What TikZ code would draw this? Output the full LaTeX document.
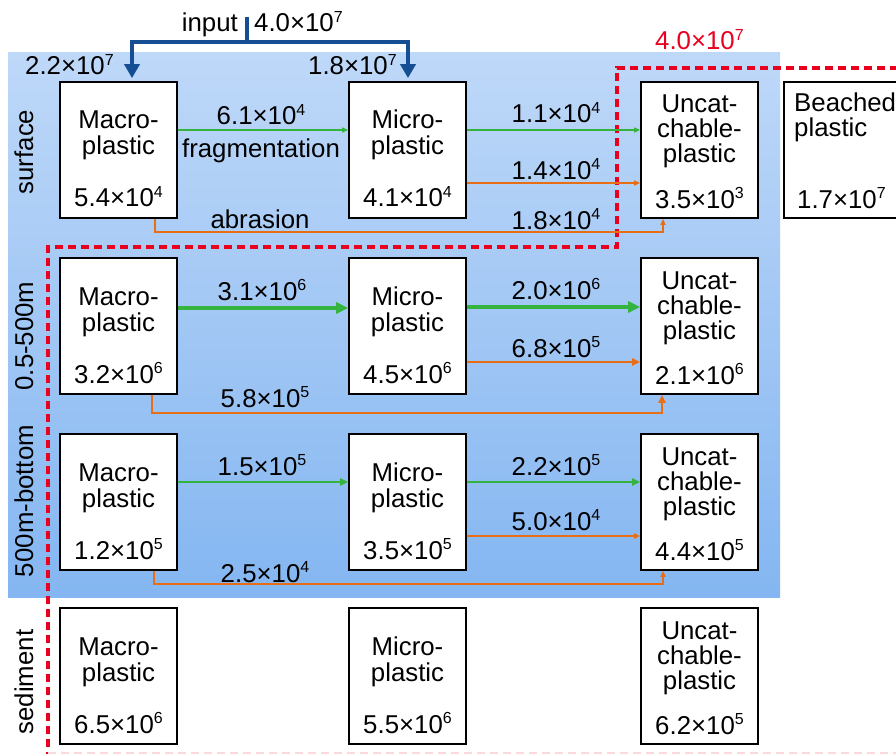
\documentclass[tikz,border=0pt]{standalone}
\usepackage{fontspec}
\setmainfont{Liberation Sans}
\usetikzlibrary{arrows.meta}

\definecolor{bgtop}{RGB}{190,216,248}
\definecolor{bgbot}{RGB}{132,182,241}
\definecolor{flowgreen}{RGB}{52,180,62}
\definecolor{floworange}{RGB}{232,110,22}
\definecolor{inblue}{RGB}{22,78,148}
\definecolor{dashred}{RGB}{232,0,30}

\newcommand\fs{\fontsize{25.8}{26}\selectfont}
\newcommand\supr[1]{\raisebox{0.36em}{\fontsize{16}{16}\selectfont #1}}
\newcommand\sci[2]{#1×10\supr{#2}}

% box with two name lines and a stock value
\newcommand\twobox[6]{%
  \node[pbox] (#1) at (#2,#3+68) {};
  \node[lbl] at (#2,#3+47) {#4};
  \node[lbl] at (#2,#3+73) {#5};
  \node[lbl] at (#2,#3+125) {#6};
}
% box with three name lines and a stock value
\newcommand\threebox[7]{%
  \node[pbox] (#1) at (#2,#3+68) {};
  \node[lbl] at (#2,#3+31) {#4};
  \node[lbl] at (#2,#3+56) {#5};
  \node[lbl] at (#2,#3+81) {#6};
  \node[lbl] at (#2,#3+126) {#7};
}

\begin{document}
\begin{tikzpicture}[x=1pt,y=-1pt,
  pbox/.style={draw=black,line width=1.7pt,fill=white,minimum width=117pt,
    minimum height=136pt,inner sep=0pt},
  lbl/.style={anchor=base,inner sep=0pt,font=\fs},
  side/.style={anchor=base,inner sep=0pt,font=\fs,rotate=90},
  thinflow/.style={line width=1.2pt,-{Triangle[length=6pt,width=5pt]}},
  midflow/.style={line width=1.9pt,-{Triangle[length=8pt,width=7pt]}},
  thickflow/.style={line width=3.2pt,-{Triangle[length=12pt,width=11pt]}},
  inflow/.style={draw=inblue,line width=4pt,-{Triangle[length=14pt,width=15pt]}},
  redline/.style={draw=dashred,line width=3.6pt,dash pattern=on 8pt off 5pt}]

\useasboundingbox (0,0) rectangle (896,754);
\clip (0,0) rectangle (896,754);

% ocean layers
\shade[top color=bgtop,bottom color=bgbot] (8,53) rectangle (780,597);

% boundary of the ocean system
\draw[redline] (48,760) -- (48,247) -- (617,247) -- (617,68) -- (900,68);
\draw[dashred!15,line width=1.2pt,dash pattern=on 8pt off 5pt] (48,753) -- (900,753);

% surface row
\twobox{ma1}{118.5}{82}{Macro-}{plastic}{\sci{5.4}{4}}
\twobox{mi1}{407.5}{82}{Micro-}{plastic}{\sci{4.1}{4}}
\threebox{un1}{699.5}{82}{Uncat-}{chable-}{plastic}{\sci{3.5}{3}}
\node[pbox] (be1) at (842.5,150) {};
\node[lbl,anchor=base west] at (794,112) {Beached};
\node[lbl,anchor=base west] at (794,137) {plastic};
\node[lbl,anchor=base west] at (797,208) {\sci{1.7}{7}};

% 0.5-500 m row
\twobox{ma2}{118.5}{258}{Macro-}{plastic}{\sci{3.2}{6}}
\twobox{mi2}{407.5}{258}{Micro-}{plastic}{\sci{4.5}{6}}
\threebox{un2}{699.5}{258}{Uncat-}{chable-}{plastic}{\sci{2.1}{6}}

% 500 m - bottom row
\twobox{ma3}{118.5}{434}{Macro-}{plastic}{\sci{1.2}{5}}
\twobox{mi3}{407.5}{434}{Micro-}{plastic}{\sci{3.5}{5}}
\threebox{un3}{699.5}{434}{Uncat-}{chable-}{plastic}{\sci{4.4}{5}}

% sediment row
\twobox{ma4}{118.5}{608}{Macro-}{plastic}{\sci{6.5}{6}}
\twobox{mi4}{407.5}{608}{Micro-}{plastic}{\sci{5.5}{6}}
\threebox{un4}{699.5}{608}{Uncat-}{chable-}{plastic}{\sci{6.2}{5}}

% depth labels
\node[side] at (33,152) {surface};
\node[side] at (33,336) {0.5-500m};
\node[side] at (33,501) {500m-bottom};
\node[side] at (33,682) {sediment};

% input
\coordinate (inp) at (247,17);
\coordinate (split) at (247,42);
\draw[draw=inblue,line width=4pt] (inp) -- (split);
\draw[inflow] (split) -| ([xshift=13.5pt,yshift=3pt]ma1.north);
\draw[inflow] (split) -| ([xshift=0.5pt,yshift=3pt]mi1.north);
\node[lbl,anchor=base east] at (238,32) {input};
\node[lbl,anchor=base west] at (254,32) {\sci{4.0}{7}};
\node[lbl,anchor=base west] at (25,75) {\sci{2.2}{7}};
\node[lbl,anchor=base west] at (308,75) {\sci{1.8}{7}};
\node[lbl,anchor=base west,text=dashred] at (655,50) {\sci{4.0}{7}};

% surface flows
\draw[thinflow,flowgreen] (ma1.east |- 0,130) -- (mi1.west |- 0,130);
\node[lbl] at (261,125) {\sci{6.1}{4}};
\node[lbl] at (261,158) {fragmentation};
\draw[thinflow,flowgreen] (mi1.east |- 0,130) -- (un1.west |- 0,130);
\node[lbl] at (556,123) {\sci{1.1}{4}};
\draw[thinflow,floworange] (mi1.east |- 0,183) -- (un1.west |- 0,183);
\node[lbl] at (556,179) {\sci{1.4}{4}};
\draw[thinflow,floworange] (155,0 |- ma1.south) -- (155,232) -| (663,0 |- un1.south);
\node[lbl] at (260,228) {abrasion};
\node[lbl] at (556,229) {\sci{1.8}{4}};

% 0.5-500 m flows
\draw[thickflow,flowgreen] (ma2.east |- 0,308) -- (mi2.west |- 0,308);
\node[lbl] at (262,300) {\sci{3.1}{6}};
\draw[thickflow,flowgreen] (mi2.east |- 0,307) -- (un2.west |- 0,307);
\node[lbl] at (556,299) {\sci{2.0}{6}};
\draw[midflow,floworange,line width=2.6pt] (mi2.east |- 0,362) -- (un2.west |- 0,362);
\node[lbl] at (556,357) {\sci{6.8}{5}};
\draw[midflow,floworange,line width=2.6pt] (152,0 |- ma2.south) -- (152,413) -| (662,0 |- un2.south);
\node[lbl] at (265,407) {\sci{5.8}{5}};

% 500 m - bottom flows
\draw[midflow,flowgreen,line width=2.3pt] (ma3.east |- 0,482) -- (mi3.west |- 0,482);
\node[lbl] at (262,475) {\sci{1.5}{5}};
\draw[midflow,flowgreen,line width=2.3pt] (mi3.east |- 0,482) -- (un3.west |- 0,482);
\node[lbl] at (556,475) {\sci{2.2}{5}};
\draw[thinflow,floworange,line width=1.5pt] (mi3.east |- 0,536) -- (un3.west |- 0,536);
\node[lbl] at (556,530) {\sci{5.0}{4}};
\draw[thinflow,floworange,line width=1.5pt] (154,0 |- ma3.south) -- (154,584) -| (663,0 |- un3.south);
\node[lbl] at (265,582) {\sci{2.5}{4}};

\end{tikzpicture}
\end{document}
